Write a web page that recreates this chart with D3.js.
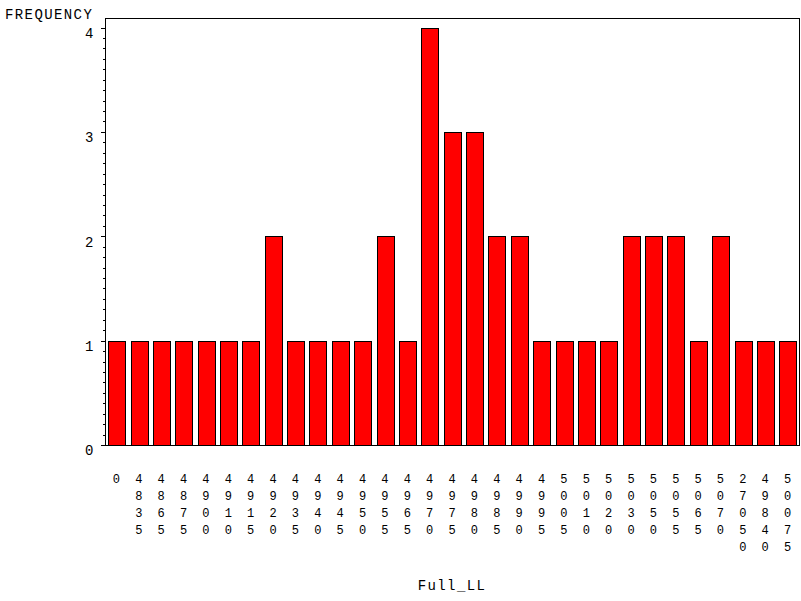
<html>

<head>
    <meta charset="utf-8">
    <title>Full_LL frequency</title>
    <style>
        body {
            margin: 0;
            background: #fff;
        }

        text {
            font-family: "Liberation Mono", "Courier New", monospace;
            fill: #000;
        }

        .axis path,
        .axis line,
        .frame {
            fill: none;
            stroke: #000;
            shape-rendering: crispEdges;
        }
    </style>
    <script src="https://cdnjs.cloudflare.com/ajax/libs/d3/7.8.5/d3.min.js"></script>
</head>

<body>

</body>
<script>
    // categories of Full_LL as printed under the bars
    var categories = ["0", "4835", "4865", "4875", "4900", "4910", "4915", "4920",
        "4935", "4940", "4945", "4950", "4955", "4965", "4970", "4975", "4980",
        "4985", "4990", "4995", "5005", "5010", "5020", "5030", "5050", "5055",
        "5065", "5070", "27050", "49840", "50075"];
    var frequency = [1, 1, 1, 1, 1, 1, 1, 2, 1, 1, 1, 1, 2, 1, 4, 3, 3, 2, 2, 1,
        1, 1, 1, 2, 2, 2, 1, 2, 1, 1, 1];
    var yTicks = [0, 1, 2, 3, 4];

    var width = 801,
        height = 601;
    var plotLeft = 105,
        plotRight = 799,
        plotTop = 18,
        plotBottom = 445;

    var svg = d3.select("body").append("svg")
        .attr("width", width)
        .attr("height", height);

    var x = d3.scaleBand()
        .domain(categories)
        .range([plotLeft, plotRight])
        .paddingInner(0.26)
        .paddingOuter(0.14);

    var y = d3.scaleLinear()
        .domain([0, 4])
        .range([plotBottom, 27.5]);

    // minor ticks every 0.1
    var minor = d3.range(0, 40).map(function(i) {
        return i / 10;
    }).filter(function(v, i) {
        return i % 10 != 0;
    });
    svg.append("g")
        .attr("class", "axis")
        .attr("transform", "translate(" + (plotLeft + 0.5) + ",0)")
        .selectAll("line")
        .data(minor)
        .enter()
        .append("line")
        .attr("x1", -3)
        .attr("x2", 0)
        .attr("y1", function(d) {
            return Math.round(y(d)) + 0.5;
        })
        .attr("y2", function(d) {
            return Math.round(y(d)) + 0.5;
        });

    var yAxis = d3.axisLeft(y)
        .tickValues(yTicks)
        .tickSize(5)
        .tickPadding(7)
        .tickFormat(d3.format("d"));

    var gy = svg.append("g")
        .attr("class", "y axis")
        .attr("transform", "translate(" + (plotLeft + 0.5) + ",0)")
        .call(yAxis);
    gy.select(".domain").remove();
    gy.selectAll("text")
        .attr("dy", "0.7em")
        .style("font-size", "14px");

    // bars
    svg.selectAll(".bar")
        .data(frequency)
        .enter()
        .append("rect")
        .attr("class", "bar")
        .attr("x", function(d, i) {
            return Math.round(x(categories[i])) + 0.5;
        })
        .attr("width", Math.round(x.bandwidth()))
        .attr("y", function(d) {
            return Math.round(y(d)) + 0.5;
        })
        .attr("height", function(d) {
            return Math.round(y(0)) - Math.round(y(d));
        })
        .attr("fill", "#ff0000")
        .attr("stroke", "#000")
        .attr("stroke-width", 1);

    // frame
    svg.append("rect")
        .attr("class", "frame")
        .attr("x", plotLeft + 0.5)
        .attr("y", plotTop + 0.5)
        .attr("width", plotRight - plotLeft)
        .attr("height", plotBottom - plotTop);

    // stacked digit labels under each bar
    var labels = svg.append("g");
    categories.forEach(function(c) {
        var cx = x(c) + x.bandwidth() / 2;
        c.split("").forEach(function(ch, j) {
            labels.append("text")
                .attr("x", cx)
                .attr("y", 482.5 + j * 17.1)
                .attr("text-anchor", "middle")
                .style("font-size", "12px")
                .text(ch);
        });
    });

    svg.append("text")
        .attr("x", 5)
        .attr("y", 18.5)
        .style("font-size", "14px")
        .style("letter-spacing", "1.4px")
        .text("FREQUENCY");

    svg.append("text")
        .attr("x", 452)
        .attr("y", 590)
        .attr("text-anchor", "middle")
        .style("font-size", "14px")
        .style("letter-spacing", "1.4px")
        .text("Full_LL");
</script>

</html>
